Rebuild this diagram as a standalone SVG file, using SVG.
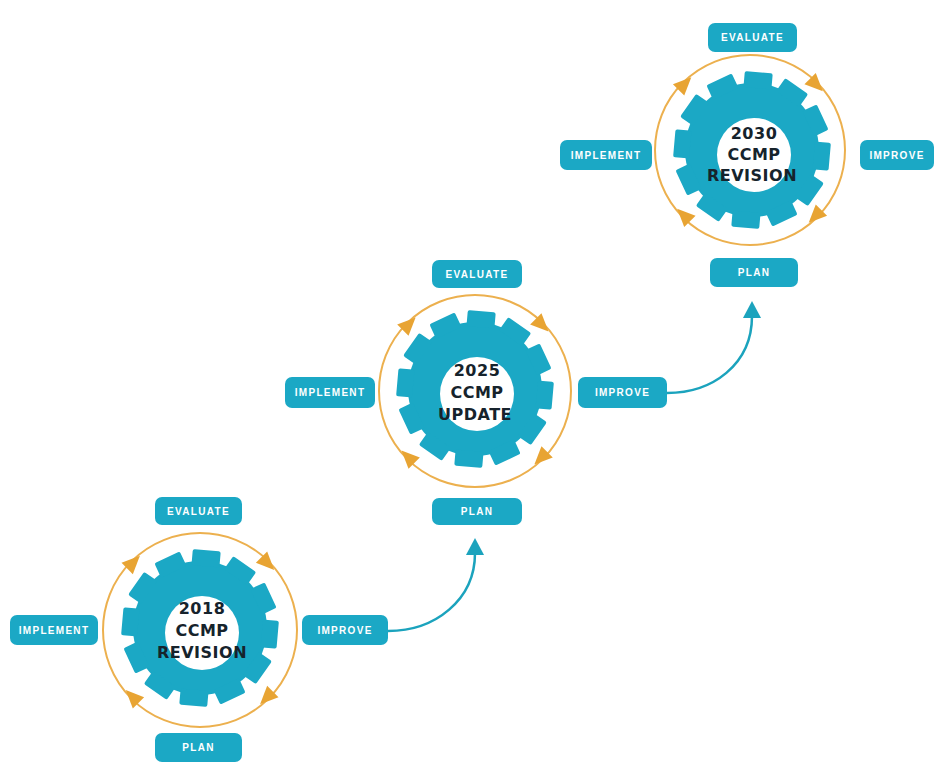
<svg xmlns="http://www.w3.org/2000/svg" xmlns:xlink="http://www.w3.org/1999/xlink" width="935" height="764" viewBox="0 0 935 764">
<style>
.lbl{fill:#1ba8c5}
.lt{fill:#ffffff;font-family:"Liberation Sans",Arial,sans-serif;font-weight:bold;font-size:10px;letter-spacing:1.3px;text-anchor:middle}
.ring{fill:none;stroke:#ecb04e;stroke-width:2}
.ah{fill:#e8a433}
.gt{fill:#16232c;font-family:"DejaVu Sans",Verdana,sans-serif;font-weight:bold;font-size:16px;letter-spacing:0.5px;text-anchor:middle}
.conn{fill:none;stroke:#1ba3bd;stroke-width:2.5}
</style>
<defs>
<g id="gear">
<circle r="67" fill="#1ba8c5"/>
<g fill="#1ba8c5">
<rect x="-14" y="-78" width="28" height="16" rx="2" transform="rotate(5)"/>
<rect x="-14" y="-78" width="28" height="16" rx="2" transform="rotate(35)"/>
<rect x="-14" y="-78" width="28" height="16" rx="2" transform="rotate(65)"/>
<rect x="-14" y="-78" width="28" height="16" rx="2" transform="rotate(95)"/>
<rect x="-14" y="-78" width="28" height="16" rx="2" transform="rotate(125)"/>
<rect x="-14" y="-78" width="28" height="16" rx="2" transform="rotate(155)"/>
<rect x="-14" y="-78" width="28" height="16" rx="2" transform="rotate(185)"/>
<rect x="-14" y="-78" width="28" height="16" rx="2" transform="rotate(215)"/>
<rect x="-14" y="-78" width="28" height="16" rx="2" transform="rotate(245)"/>
<rect x="-14" y="-78" width="28" height="16" rx="2" transform="rotate(275)"/>
<rect x="-14" y="-78" width="28" height="16" rx="2" transform="rotate(305)"/>
<rect x="-14" y="-78" width="28" height="16" rx="2" transform="rotate(335)"/>
</g>
<circle cx="2" cy="5" r="37" fill="#ffffff"/>
</g>
<marker id="tarrow" markerUnits="userSpaceOnUse" markerWidth="20" markerHeight="20" refX="2" refY="10" orient="auto">
<path d="M0,1 L17,10 L0,19 Z" fill="#1ba3bd"/>
</marker>
</defs>

<g id="connectors">
<path class="conn" d="M388 631 C435 631 475 600 475 553" marker-end="url(#tarrow)"/>
<path class="conn" d="M667 393 C712 393 752 365 752 316" marker-end="url(#tarrow)"/>
</g>

<g id="cycle-2018">
<circle class="ring" cx="200" cy="630" r="97"/>
<g class="ah">
<polygon points="0,-10 8,8 -8,8" transform="translate(200,630) rotate(-45) translate(95,0) rotate(180)"/>
<polygon points="0,-10 8,8 -8,8" transform="translate(200,630) rotate(45) translate(95,0) rotate(180)"/>
<polygon points="0,-10 8,8 -8,8" transform="translate(200,630) rotate(135) translate(95,0) rotate(180)"/>
<polygon points="0,-10 8,8 -8,8" transform="translate(200,630) rotate(225) translate(95,0) rotate(180)"/>
</g>
<use xlink:href="#gear" transform="translate(200,628)"/>
<text class="gt" x="202" y="614">2018</text>
<text class="gt" x="202" y="636">CCMP</text>
<text class="gt" x="202" y="658">REVISION</text>
</g>
<g id="evaluate-1"><rect class="lbl" x="155" y="497" width="87" height="28" rx="7"/><text class="lt" x="198.5" y="515">EVALUATE</text></g>
<g id="implement-1"><rect class="lbl" x="10" y="615" width="88" height="30" rx="7"/><text class="lt" x="54" y="634">IMPLEMENT</text></g>
<g id="improve-1"><rect class="lbl" x="302" y="615" width="86" height="30" rx="7"/><text class="lt" x="345" y="634">IMPROVE</text></g>
<g id="plan-1"><rect class="lbl" x="155" y="733" width="87" height="29" rx="7"/><text class="lt" x="198.5" y="751">PLAN</text></g>

<g id="cycle-2025">
<circle class="ring" cx="475" cy="391" r="96"/>
<g class="ah">
<polygon points="0,-10 8,8 -8,8" transform="translate(475,391) rotate(-45) translate(94,0) rotate(180)"/>
<polygon points="0,-10 8,8 -8,8" transform="translate(475,391) rotate(45) translate(94,0) rotate(180)"/>
<polygon points="0,-10 8,8 -8,8" transform="translate(475,391) rotate(135) translate(94,0) rotate(180)"/>
<polygon points="0,-10 8,8 -8,8" transform="translate(475,391) rotate(225) translate(94,0) rotate(180)"/>
</g>
<use xlink:href="#gear" transform="translate(475,389)"/>
<text class="gt" x="477" y="376">2025</text>
<text class="gt" x="477" y="398">CCMP</text>
<text class="gt" x="475" y="420">UPDATE</text>
</g>
<g id="evaluate-2"><rect class="lbl" x="432" y="260" width="90" height="28" rx="7"/><text class="lt" x="477" y="278">EVALUATE</text></g>
<g id="implement-2"><rect class="lbl" x="285" y="377" width="90" height="31" rx="7"/><text class="lt" x="330" y="396">IMPLEMENT</text></g>
<g id="improve-2"><rect class="lbl" x="578" y="377" width="89" height="31" rx="7"/><text class="lt" x="622.5" y="396">IMPROVE</text></g>
<g id="plan-2"><rect class="lbl" x="432" y="498" width="90" height="27" rx="7"/><text class="lt" x="477" y="515">PLAN</text></g>

<g id="cycle-2030">
<circle class="ring" cx="750" cy="150" r="95"/>
<g class="ah">
<polygon points="0,-10 8,8 -8,8" transform="translate(750,150) rotate(-45) translate(93,0) rotate(180)"/>
<polygon points="0,-10 8,8 -8,8" transform="translate(750,150) rotate(45) translate(93,0) rotate(180)"/>
<polygon points="0,-10 8,8 -8,8" transform="translate(750,150) rotate(135) translate(93,0) rotate(180)"/>
<polygon points="0,-10 8,8 -8,8" transform="translate(750,150) rotate(225) translate(93,0) rotate(180)"/>
</g>
<use xlink:href="#gear" transform="translate(752,150)"/>
<text class="gt" x="754" y="139">2030</text>
<text class="gt" x="754" y="160">CCMP</text>
<text class="gt" x="752" y="181">REVISION</text>
</g>
<g id="evaluate-3"><rect class="lbl" x="708" y="23" width="89" height="29" rx="7"/><text class="lt" x="752.5" y="41">EVALUATE</text></g>
<g id="implement-3"><rect class="lbl" x="560" y="140" width="92" height="30" rx="7"/><text class="lt" x="606" y="159">IMPLEMENT</text></g>
<g id="improve-3"><rect class="lbl" x="860" y="140" width="74" height="30" rx="7"/><text class="lt" x="897" y="159">IMPROVE</text></g>
<g id="plan-3"><rect class="lbl" x="710" y="258" width="88" height="29" rx="7"/><text class="lt" x="754" y="276">PLAN</text></g>
</svg>
